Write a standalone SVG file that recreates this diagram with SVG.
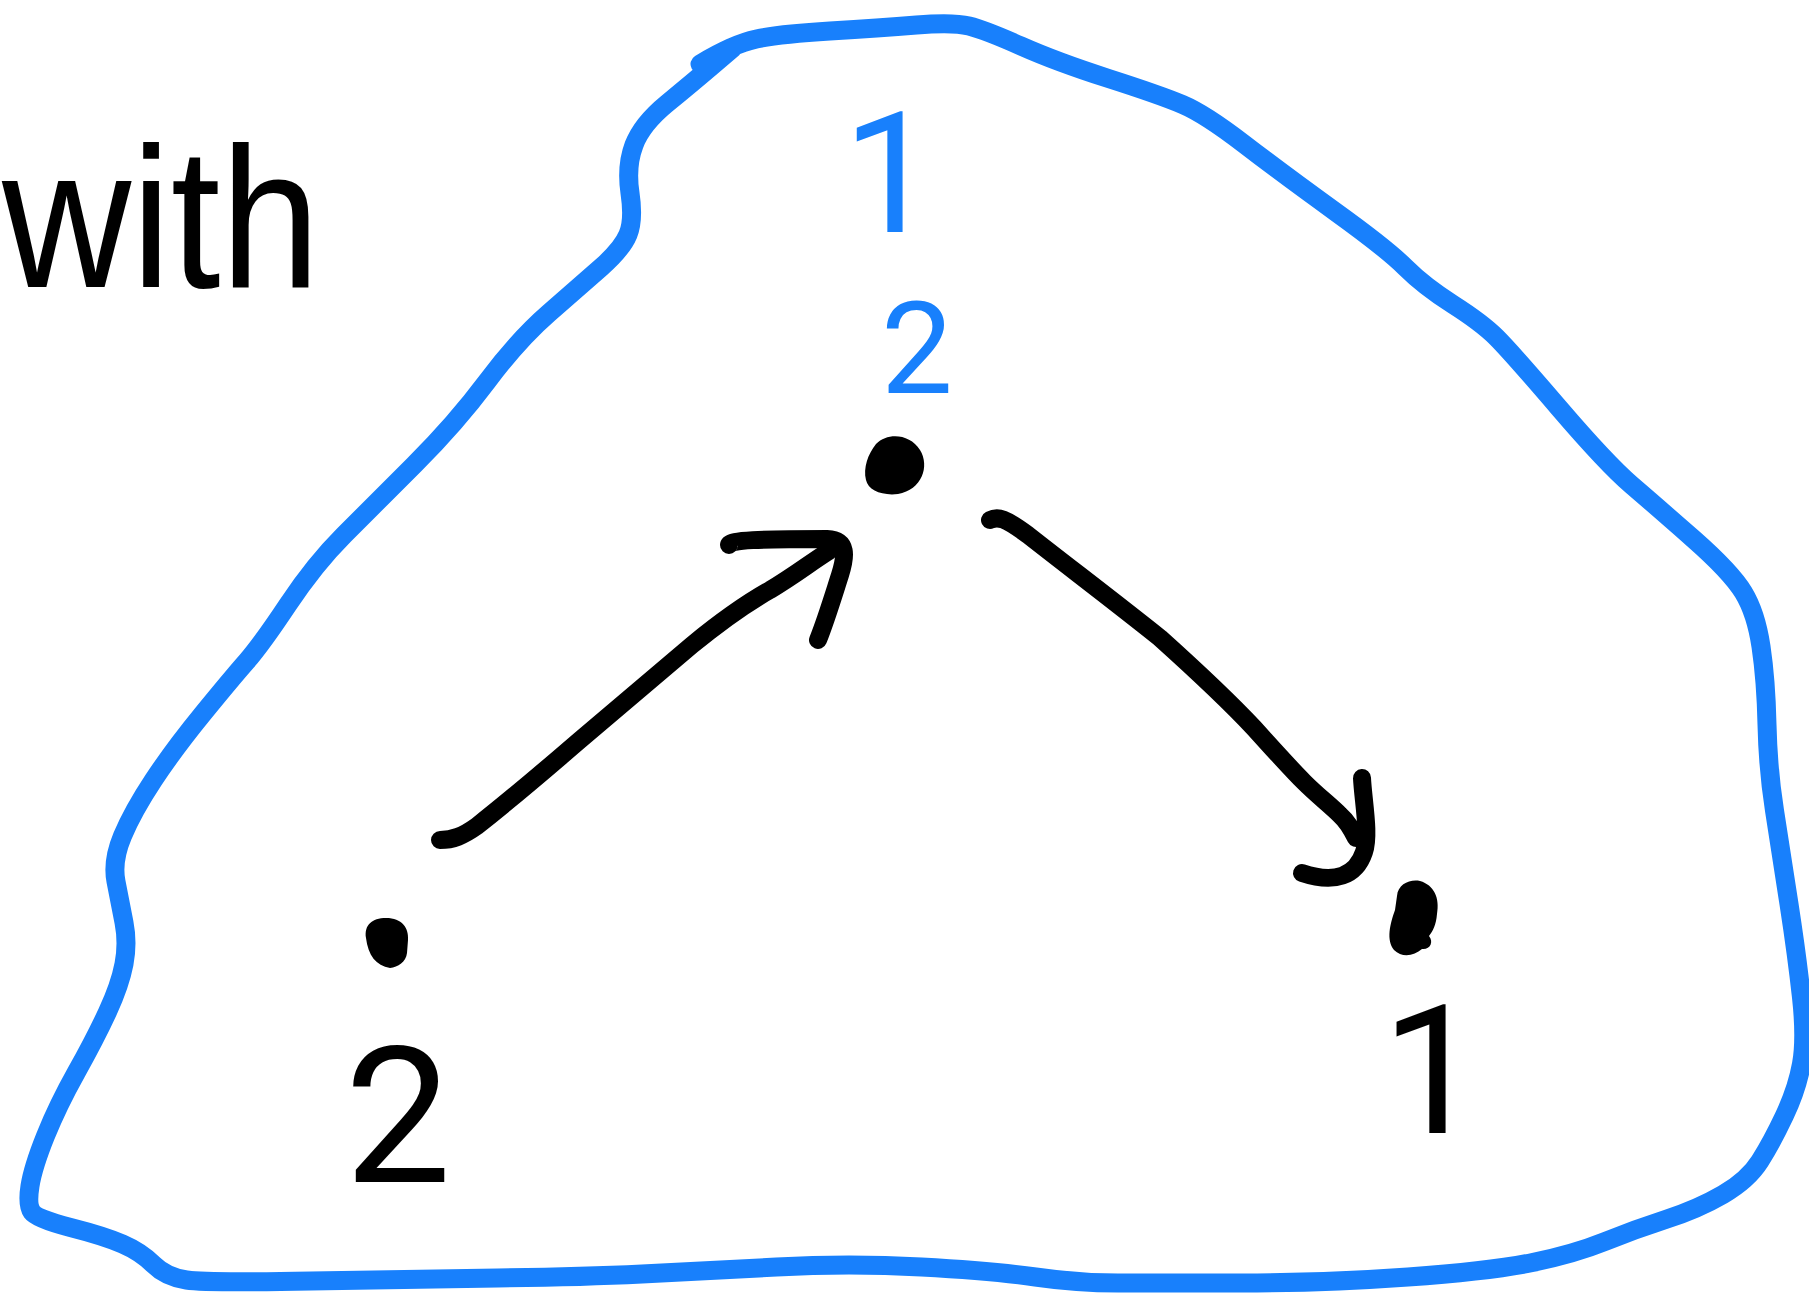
<svg xmlns="http://www.w3.org/2000/svg" width="1809" height="1295" viewBox="0 0 1809 1295">
<style>
.blob{fill:none;stroke:#1880FC;stroke-width:19;stroke-linecap:round;stroke-linejoin:round}
.ink{fill:none;stroke:#000;stroke-width:18;stroke-linecap:round;stroke-linejoin:round}
.dot{fill:#000}
.hand{font-family:Roboto,"Liberation Sans","DejaVu Sans",sans-serif;text-anchor:middle}
.word{font-family:"Liberation Sans","DejaVu Sans",sans-serif}
.blue{fill:#1880FC}
.black{fill:#000}
</style>
<rect width="1809" height="1295" fill="#fff"/>
<g id="region">
<path class="blob" d="M700,64 Q733,44 756.5,39 Q780,34 830,31 Q880,28 916.5,25 Q953,22 969,26 Q985,30 1021,46 Q1057,62 1108.5,78.5 Q1160,95 1182.5,104.5 Q1205,114 1244,144 Q1283,174 1335,211.5 Q1387,249 1405.5,267.5 Q1424,286 1453,304.5 Q1482,323 1496.5,337.5 Q1511,352 1559,408 Q1607,464 1631.5,485 Q1656,506 1693.5,539 Q1731,572 1743.5,592.5 Q1756,613 1761,646.5 Q1766,680 1767,724.5 Q1768,769 1774.5,810.5 Q1781,852 1789,904 Q1797,956 1801.5,997.5 Q1806,1039 1801.5,1064 Q1797,1089 1784.5,1115.5 Q1772,1142 1760,1161 Q1748,1180 1723,1194.5 Q1698,1209 1667,1219 Q1636,1229 1605,1241.5 Q1574,1254 1532.5,1262.5 Q1491,1271 1408,1277 Q1325,1283 1242,1283 Q1159,1283 1118,1283 Q1077,1283 1035.5,1277 Q994,1271 921.5,1267 Q849,1263 776.5,1267 Q704,1271 642,1274 Q580,1277 497.5,1278 Q415,1279 311,1281 Q207,1283 186.5,1280 Q166,1277 153.5,1264.5 Q141,1252 122.5,1244 Q104,1236 70.5,1227.5 Q37,1219 32,1212 Q27,1205 30,1186 Q33,1167 45.5,1136 Q58,1105 76.5,1072 Q95,1039 107.5,1012 Q120,985 124,964 Q128,943 124,922.5 Q120,902 116,881.5 Q112,861 122.5,836 Q133,811 153.5,780 Q174,749 203,713.5 Q232,678 246.5,661.5 Q261,645 288,604.5 Q315,564 344,535 Q373,506 414.5,464.5 Q456,423 487,381.5 Q518,340 549,313 Q580,286 601,267.5 Q622,249 628,234.5 Q634,220 630,193 Q626,166 634,145 Q642,124 667,103.5 Q692,83 712.5,65.5 L733,48"/>
</g>
<g id="label-with">
<text class="word black" x="2" y="287" font-size="200" textLength="318" lengthAdjust="spacingAndGlyphs">with</text>
</g>
<g id="node-top">
<text class="hand blue" x="890" y="232" font-size="168">1</text>
<text class="hand blue" x="917" y="393" font-size="128">2</text>
<path class="dot" d="M876,444 C888,432 910,434 920,450 C930,466 922,490 898,494 C882,496 868,490 866,480 C863,468 868,454 876,444 Z"/>
</g>
<g id="node-left">
<path class="dot" d="M366,938 C364,925 372,918 386,918 C402,918 409,928 408,940 L407,953 C406,962 398,967 390,968 C376,966 368,955 366,938 Z"/>
<text class="hand black" x="398" y="1182" font-size="190">2</text>
</g>
<g id="node-right">
<path class="dot" d="M1397,896 C1398,884 1410,879 1420,881 C1434,885 1440,898 1437,914 C1436,925 1433,931 1429,936 C1434,942 1430,950 1422,949 C1414,956 1402,958 1394,950 C1386,940 1390,924 1395,910 Z"/>
<text class="hand black" x="1432" y="1133" font-size="180">1</text>
</g>
<g id="connectors">
<path class="ink" d="M440,840 C453,840 463,836 477,826 C520,792 545,770 580,740 C620,706 660,672 692,645 C720,622 745,604 770,590 C795,575 810,563 829,551"/>
<path class="ink" d="M729,545 C729,540 760,539 827,539 C848,540 846,556 840,575 C832,600 826,620 818,640"/>
<path class="ink" d="M990,520 C998,516 1005,518 1028,535 C1070,568 1115,602 1160,638 C1190,665 1225,697 1254,728 C1272,748 1290,768 1304,782 C1318,796 1330,805 1340,815 C1348,822 1352,830 1356,838"/>
<path class="ink" d="M1362,778 C1363,800 1370,835 1364,852 C1356,876 1335,884 1302,873"/>
</g>
</svg>
